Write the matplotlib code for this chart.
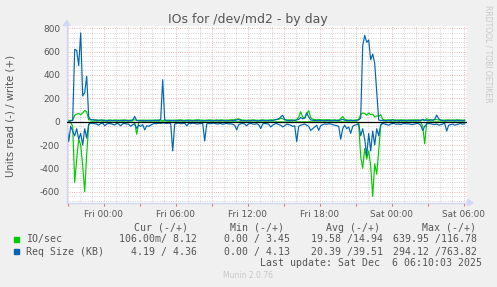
import numpy as np
import matplotlib.pyplot as plt
from matplotlib.patches import Rectangle, Polygon

plt.rcParams['axes.unicode_minus'] = False

# --- Data (10 min steps, Thu 20:55 -> Sat 06:05) ---
io_write = [
    12, 12, 10, 14, 55, 65, 70, 60, 75, 95,
    85, 15, 18, 14, 12, 15, 13, 12, 14, 13,
    12, 14, 13, 12, 15, 14, 12, 13, 15, 14,
    13, 12, 14, 15, 16, 10, 13, 12, 14, 13,
    12, 13, 14, 12, 13, 14, 15, 12, 10, 13,
    12, 14, 13, 12, 14, 13, 15, 14, 13, 12,
    14, 15, 13, 12, 14, 16, 15, 13, 14, 12,
    13, 14, 15, 13, 12, 14, 13, 15, 14, 13,
    14, 13, 15, 16, 18, 22, 24, 18, 14, 13,
    12, 14, 13, 15, 14, 13, 12, 14, 15, 13,
    14, 13, 15, 14, 16, 18, 20, 30, 25, 15,
    14, 15, 16, 14, 13, 15, 40, 85, 40, 30,
    70, 95, 35, 20, 18, 16, 18, 17, 15, 16,
    17, 15, 16, 14, 15, 13, 14, 25, 45, 20,
    15, 14, 13, 12, 14, 15, 20, 60, 75, 70,
    55, 75, 60, 65, 40, 50, 45, 60, 20, 15,
    14, 16, 15, 18, 14, 13, 15, 16, 14, 15,
    14, 13, 15, 14, 16, 15, 14, 13, 15, 10,
    25, 18, 15, 14, 16, 18, 14, 15, 13, 14,
    15, 14, 13, 15, 14, 16, 15, 14, 13, 14,
]
io_read = [
    -2, -3, -5, -40, -520, -320, -150, -200, -380, -600,
    -280, -30, -3, -2, -3, -2, -4, -3, -2, -3,
    -2, -3, -2, -4, -3, -2, -3, -2, -3, -2,
    -3, -2, -3, -4, -10, -108, -5, -3, -2, -3,
    -2, -3, -2, -3, -2, -3, -2, -3, -2, -3,
    -2, -3, -2, -4, -3, -2, -3, -2, -3, -2,
    -3, -2, -3, -2, -3, -2, -3, -2, -3, -2,
    -3, -2, -3, -2, -3, -2, -3, -2, -3, -2,
    -3, -2, -3, -2, -3, -2, -3, -2, -3, -2,
    -3, -2, -3, -2, -3, -2, -3, -2, -3, -2,
    -3, -2, -3, -2, -3, -2, -3, -2, -3, -2,
    -3, -2, -3, -2, -3, -2, -3, -2, -3, -2,
    -3, -2, -3, -2, -3, -2, -3, -2, -3, -2,
    -3, -2, -3, -2, -3, -2, -3, -2, -3, -2,
    -3, -2, -3, -2, -3, -2, -20, -300, -400, -230,
    -320, -250, -380, -640, -360, -450, -250, -30, -5, -3,
    -2, -3, -2, -3, -2, -3, -2, -3, -2, -3,
    -2, -3, -2, -3, -2, -3, -2, -3, -40, -190,
    -5, -3, -2, -3, -2, -3, -2, -3, -2, -3,
    -2, -3, -2, -3, -2, -3, -2, -3, -2, -3,
]
size_write = [
    5, 3, 8, 12, 620, 610, 480, 760, 220, 250,
    390, 40, 15, 18, 15, 12, 10, 14, 12, 10,
    8, 10, 12, 9, 10, 8, 11, 10, 9, 12,
    10, 8, 9, 12, 45, 10, 8, 10, 9, 8,
    10, 9, 8, 10, 12, 10, 9, 20, 360, 15,
    10, 8, 9, 10, 8, 9, 10, 12, 9, 8,
    10, 9, 11, 8, 10, 9, 12, 10, 8, 9,
    10, 11, 9, 8, 10, 12, 9, 10, 11, 8,
    9, 10, 12, 10, 9, 15, 18, 10, 9, 10,
    8, 10, 9, 12, 10, 9, 8, 10, 12, 10,
    9, 10, 12, 10, 15, 20, 25, 40, 55, 20,
    12, 10, 9, 12, 10, 15, 20, 35, 25, 30,
    75, 40, 15, 12, 10, 9, 12, 10, 11, 9,
    10, 12, 9, 10, 12, 10, 9, 15, 20, 12,
    10, 9, 12, 10, 9, 10, 15, 30, 650, 740,
    680, 700, 530, 580, 500, 260, 15, 10, 12, 9,
    10, 12, 9, 15, 10, 12, 9, 10, 11, 10,
    9, 12, 10, 11, 9, 10, 12, 10, 20, 12,
    12, 10, 15, 12, 20, 57, 25, 12, 10, 9,
    9, 12, 10, 11, 9, 12, 10, 11, 9, 12,
]
size_read = [
    -30, -170, -40, -80, -120, -60, -150, -100, -200, -60,
    -140, -20, -15, -12, -18, -20, -30, -15, -12, -35,
    -20, -15, -18, -22, -28, -15, -20, -35, -18, -15,
    -20, -22, -40, -25, -20, -57, -30, -40, -25, -70,
    -35, -40, -30, -20, -15, -18, -12, -15, -10, -12,
    -15, -12, -18, -250, -20, -15, -12, -18, -15, -12,
    -35, -15, -18, -12, -15, -20, -18, -15, -12, -165,
    -20, -15, -18, -12, -15, -20, -18, -15, -22, -18,
    -15, -20, -18, -22, -30, -70, -25, -18, -15, -20,
    -35, -18, -15, -20, -22, -18, -25, -60, -20, -15,
    -18, -22, -45, -30, -20, -15, -25, -30, -45, -35,
    -20, -25, -30, -40, -35, -170, -40, -30, -25, -20,
    -30, -40, -75, -60, -45, -30, -75, -35, -25, -20,
    -22, -18, -20, -25, -30, -35, -40, -150, -60, -30,
    -60, -45, -100, -40, -30, -25, -20, -120, -60, -150,
    -290, -100, -250, -80, -200, -60, -120, -30, -15, -20,
    -25, -30, -20, -15, -18, -22, -20, -25, -18, -15,
    -20, -18, -22, -25, -20, -15, -18, -30, -75, -40,
    -20, -15, -18, -22, -25, -20, -30, -25, -20, -15,
    -80, -30, -25, -20, -30, -25, -20, -15, -22, -18,
]

tick_hours = [0, 6, 12, 18, 24, 30]
tick_labels = ['Fri 00:00', 'Fri 06:00', 'Fri 12:00', 'Fri 18:00', 'Sat 00:00', 'Sat 06:00']

legend_rows = [
    ('IO/sec', '#00CC00', '106.00m/ 8.12', '0.00 / 3.45', '19.58 /14.94', '639.95 /116.78'),
    ('Req Size (KB)', '#0066B3', '4.19 / 4.36', '0.00 / 4.13', '20.39 /39.51', '294.12 /763.82'),
]

# hours relative to Fri 00:00
t = -3 - 5 / 60 + np.arange(len(io_write)) / 6.0

W, H = 497, 287
TXT = '#555555'

def fx(x):
    return x / W

def fy(y):
    return 1 - y / H

fig = plt.figure(figsize=(W / 100, H / 100), dpi=100, facecolor='#F0F0F0')
ax = fig.add_axes([fx(66.7), fy(202.7), 400 / W, (202.7 - 25.5) / H])
ax.set_facecolor('white')

ax.plot(t, io_read, color='#00CC00', lw=0.85)
ax.plot(t, io_write, color='#00CC00', lw=0.85)
ax.plot(t, size_read, color='#0066B3', lw=0.85)
ax.plot(t, size_write, color='#0066B3', lw=0.85)
ax.axhline(0, color='black', lw=0.9, zorder=5)

ax.set_xlim(-3 - 5 / 60, -3 - 5 / 60 + 400 / 12)
ax.set_ylim(-694, 824)

# --- grid ---
major_x = np.arange(-3, 31, 3)
ax.set_xticks(major_x)
ax.set_xticklabels([tick_labels[tick_hours.index(h)] if h in tick_hours else '' for h in major_x])
ax.set_xticks(np.arange(-3, 31, 1), minor=True)
ax.set_yticks(np.arange(-600, 801, 200))
ax.set_yticks(np.arange(-680, 824, 40), minor=True)
ax.set_axisbelow(True)
ax.grid(which='minor', color='#C4C4C4', lw=0.6, linestyle=(0, (1, 1.7)))
ax.grid(which='major', color='#EDA0A0', lw=0.6, linestyle=(0, (1, 1.7)))

ax.tick_params(axis='x', which='major', length=2.5, width=0.8, color='#E07070',
               labelsize=6.4, labelcolor=TXT, pad=2.5)
ax.tick_params(axis='y', which='major', length=0, labelsize=6.4, labelcolor=TXT, pad=4.8)
ax.tick_params(which='minor', length=0)

for s in ['top', 'right']:
    ax.spines[s].set_visible(False)
for s in ['left', 'bottom']:
    ax.spines[s].set_color('#CFD6F8')
    ax.spines[s].set_linewidth(1.0)

# axis arrows
fig.patches.append(Polygon([(fx(63.5), fy(25.5)), (fx(69.9), fy(25.5)), (fx(66.7), fy(20.5))],
                           closed=True, color='#CFD6F8', transform=fig.transFigure))
fig.patches.append(Polygon([(fx(467.5), fy(199.5)), (fx(467.5), fy(205.9)), (fx(473), fy(202.7))],
                           closed=True, color='#CFD6F8', transform=fig.transFigure))
fig.add_artist(plt.Line2D([fx(466.7), fx(468)], [fy(202.7), fy(202.7)], color='#CFD6F8', lw=1.0))

# --- texts ---
fig.text(fx(248), fy(19), 'IOs for /dev/md2 - by day', ha='center', va='center', fontsize=9, color=TXT)
fig.text(fx(10.5), fy(116), 'Units read (-) / write (+)', rotation=90, ha='center', va='center',
         fontsize=7.3, color=TXT)
fig.text(fx(488), fy(5), 'RRDTOOL / TOBI OETIKER', rotation=270, ha='center', va='top',
         fontsize=5.5, color='#C8C8C8')

mono = dict(family='DejaVu Sans Mono', fontsize=7.1, color=TXT, va='center')
headers = [('Cur (-/+)', 188.3), ('Min (-/+)', 284.3), ('Avg (-/+)', 380.3), ('Max (-/+)', 476.3)]
for txt, xr in headers:
    fig.text(fx(xr), fy(227.7), txt, ha='right', **mono)

col_right = [196.7, 290, 383.3, 476.7]
for k, row in enumerate(legend_rows):
    y = 239.3 + 12.4 * k
    fig.patches.append(Rectangle((fx(14), fy(y + 2.6)), 5.4 / W, 5.4 / H, color=row[1],
                                 transform=fig.transFigure))
    fig.text(fx(26), fy(y), row[0], ha='left', **mono)
    for val, xr in zip(row[2:], col_right):
        fig.text(fx(xr), fy(y), val, ha='right', **mono)

fig.text(fx(481.7), fy(263.3), 'Last update: Sat Dec  6 06:10:03 2025', ha='right', **mono)
fig.text(fx(223), fy(276), 'Munin 2.0.76', ha='left', va='center', fontsize=5.5, color='#C8C8C8')

fig.savefig('out.png', dpi=100, facecolor=fig.get_facecolor())
